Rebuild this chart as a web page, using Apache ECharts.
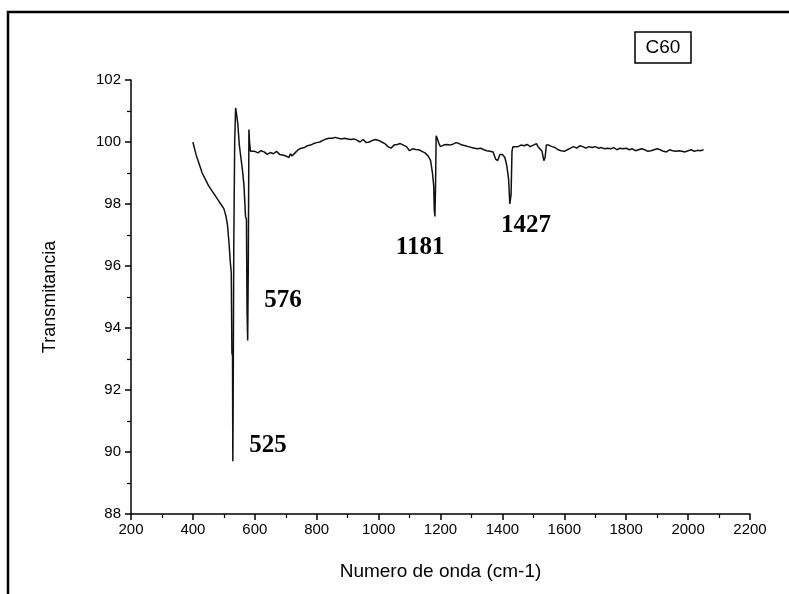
<!DOCTYPE html>
<html><head><meta charset="utf-8">
<script src="https://cdn.jsdelivr.net/npm/echarts@6/dist/echarts.min.js"></script>
<style>html,body{margin:0;padding:0;background:#fff}#c{width:789px;height:594px}</style>
</head><body><div id="c"></div>
<script>
const wavenumbers = [400,410,420,430,440,450,460,470,480,490,500,507,512,517,521,524,526,528,529,530,532,535,538,541,545,550,555,560,565,570,573,575,577,579,581,583,586,590,600,610,620,630,640,650,660,670,680,690,700,710,715,720,730,740,750,760,770,780,790,800,810,820,830,840,850,860,870,880,890,900,910,920,930,940,950,960,970,980,990,1000,1010,1020,1030,1040,1050,1060,1070,1080,1090,1100,1110,1120,1130,1140,1150,1160,1168,1174,1178,1180,1182,1184,1186,1190,1195,1200,1210,1220,1230,1240,1250,1260,1270,1280,1290,1300,1310,1320,1330,1340,1350,1360,1370,1378,1385,1392,1400,1408,1414,1420,1424,1428,1431,1434,1440,1450,1460,1470,1480,1490,1500,1510,1515,1520,1528,1534,1538,1542,1546,1550,1560,1570,1580,1590,1600,1610,1620,1630,1640,1650,1660,1670,1680,1690,1700,1710,1720,1730,1740,1750,1760,1770,1780,1790,1800,1810,1820,1830,1840,1850,1860,1870,1880,1890,1900,1910,1920,1930,1940,1950,1960,1970,1980,1990,2000,2010,2020,2030,2040,2050];
const transmittance = [100.0,99.6,99.3,99.0,98.8,98.6,98.45,98.3,98.15,98.0,97.85,97.6,97.3,96.7,96.1,95.8,93.2,93.1,89.7,91.4,96.5,100.0,101.1,100.9,100.6,99.9,99.5,99.1,98.6,97.6,97.5,94.5,93.6,96.0,100.4,100.0,99.7,99.75,99.7,99.65,99.72,99.68,99.6,99.66,99.62,99.7,99.6,99.58,99.55,99.5,99.62,99.55,99.65,99.75,99.8,99.82,99.88,99.9,99.95,99.98,100.0,100.05,100.1,100.12,100.12,100.15,100.12,100.1,100.12,100.1,100.08,100.1,100.06,100.0,100.08,99.98,100.0,100.05,100.08,100.05,100.0,99.95,99.85,99.8,99.9,99.92,99.95,99.9,99.85,99.72,99.78,99.76,99.75,99.7,99.65,99.55,99.4,99.0,98.6,97.8,97.6,98.6,100.2,100.1,99.95,99.85,99.9,99.92,99.9,99.93,99.98,99.95,99.9,99.88,99.85,99.82,99.8,99.78,99.8,99.75,99.72,99.7,99.68,99.45,99.4,99.6,99.6,99.5,99.25,98.8,98.0,98.3,99.7,99.85,99.8,99.85,99.9,99.88,99.92,99.85,99.9,99.95,99.85,99.8,99.7,99.4,99.5,99.9,99.95,99.9,99.85,99.82,99.75,99.72,99.7,99.75,99.8,99.85,99.8,99.88,99.85,99.8,99.85,99.82,99.85,99.8,99.82,99.78,99.8,99.78,99.82,99.75,99.8,99.78,99.8,99.75,99.78,99.72,99.75,99.78,99.75,99.7,99.72,99.75,99.78,99.75,99.7,99.68,99.75,99.72,99.7,99.72,99.7,99.68,99.72,99.75,99.7,99.73,99.72,99.75];
const peakNames = ['525','576','1181','1427'];
const peakLabelX = [643,691,1134,1476];
const peakLabelY = [90.2,94.9,96.6,97.3];
const xTicks = {min:200,max:2200,interval:200};
const yTicks = {min:88,max:102,interval:2};
const xTitle = 'Numero de onda (cm-1)';
const yTitle = 'Transmitancia';
const boxText = 'C60';

const chart = echarts.init(document.getElementById('c'), null, {renderer:'canvas'});
const axisCommon = {
  axisLine:{show:true,lineStyle:{color:'#000',width:1.5}},
  axisTick:{show:true,inside:false,length:6,lineStyle:{color:'#000',width:1.5}},
  minorTick:{show:true,splitNumber:2,length:4,lineStyle:{color:'#000',width:1.2}},
  splitLine:{show:false},
  axisLabel:{color:'#000',fontFamily:'Liberation Sans',fontSize:15,formatter:v=>String(v)}
};
chart.setOption({
  animation:false,
  backgroundColor:'#fff',
  grid:{left:131,right:39,top:80,bottom:80},
  xAxis:Object.assign({type:'value',min:xTicks.min,max:xTicks.max,interval:xTicks.interval,
    name:xTitle,nameLocation:'middle',nameGap:48,
    nameTextStyle:{color:'#000',fontFamily:'Liberation Sans',fontSize:19}},axisCommon,
    {axisLabel:Object.assign({},axisCommon.axisLabel,{margin:8})}),
  yAxis:Object.assign({type:'value',min:yTicks.min,max:yTicks.max,interval:yTicks.interval,
    name:yTitle,nameLocation:'middle',nameGap:72,
    nameTextStyle:{color:'#000',fontFamily:'Liberation Sans',fontSize:18}},axisCommon,
    {axisLabel:Object.assign({},axisCommon.axisLabel,{margin:10})}),
  series:[
    {type:'line',data:wavenumbers.map((w,i)=>[w,transmittance[i]]),showSymbol:false,
     lineStyle:{color:'#111',width:1.5},z:3},
    {type:'scatter',symbolSize:0,data:peakNames.map((n,i)=>({name:n,value:[peakLabelX[i],peakLabelY[i]]})),
     label:{show:true,position:'inside',formatter:p=>p.name,color:'#000',opacity:1,
       fontFamily:'Liberation Serif',fontWeight:'bold',fontSize:25},
     itemStyle:{color:'#000',opacity:1},silent:true}
  ],
  graphic:[
    {type:'rect',shape:{x:8,y:12,width:800,height:600},style:{fill:null,stroke:'#000',lineWidth:2.5},silent:true},
    {type:'rect',shape:{x:635,y:32,width:56,height:31},style:{fill:'#fff',stroke:'#000',lineWidth:1.5},silent:true},
    {type:'text',x:663,y:48,style:{text:boxText,fill:'#000',font:'19px "Liberation Sans"',align:'center',verticalAlign:'middle'},silent:true}
  ]
});
</script></body></html>
